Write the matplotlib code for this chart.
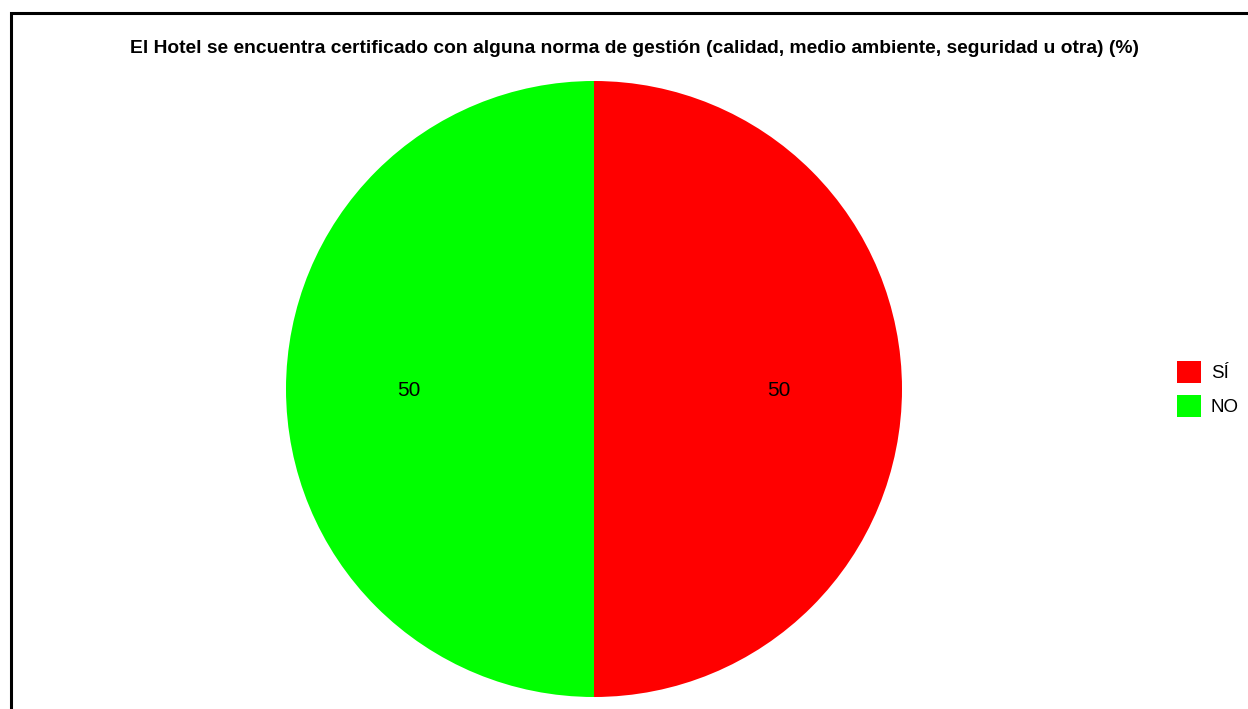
import matplotlib
matplotlib.use("Agg")
import matplotlib.pyplot as plt
from matplotlib.patches import Rectangle

categories = ["SÍ", "NO"]
values = [50, 50]
colors = ["#FF0000", "#00FF00"]
title = "El Hotel se encuentra certificado con alguna norma de gestión (calidad, medio ambiente, seguridad u otra) (%)"

W, H = 1248, 709
plt.rcParams["font.family"] = ["Liberation Sans", "DejaVu Sans"]
fig = plt.figure(figsize=(W / 100, H / 100), dpi=100)

# outer frame
fig.patches.append(Rectangle((10.5 / W, -0.05), 2.0, (H - 12.5) / H + 0.05,
                             transform=fig.transFigure, fill=False,
                             edgecolor="black", linewidth=2.2))

# pie axes placed by pixel geometry
cx, cy, r = 594, 389, 308
ax = fig.add_axes([(cx - r) / W, (H - cy - r) / H, 2 * r / W, 2 * r / H])
wedges, _, autotexts = ax.pie(values, colors=colors, startangle=90, counterclock=False,
                              autopct=lambda p: f"{p:.0f}", pctdistance=0.6,
                              radius=1, textprops={"fontsize": 15, "color": "black"},
                              wedgeprops={"linewidth": 0})
for t in autotexts:
    t.set_va("center_baseline")
ax.set_xlim(-1, 1)
ax.set_ylim(-1, 1)
ax.set_aspect("equal")
ax.axis("off")

fig.text(634 / W, 1 - 53 / H, title, ha="center", va="baseline",
         fontsize=13.9, fontweight="bold")

leg = fig.legend(wedges, categories, loc="center left",
                 bbox_to_anchor=(1177 / W, 1 - 389 / H), frameon=False,
                 fontsize=13.5, handlelength=1.28, handleheight=1.43,
                 handletextpad=0.53, labelspacing=0.65, borderpad=0,
                 borderaxespad=0)

fig.savefig("out.png", dpi=100)
